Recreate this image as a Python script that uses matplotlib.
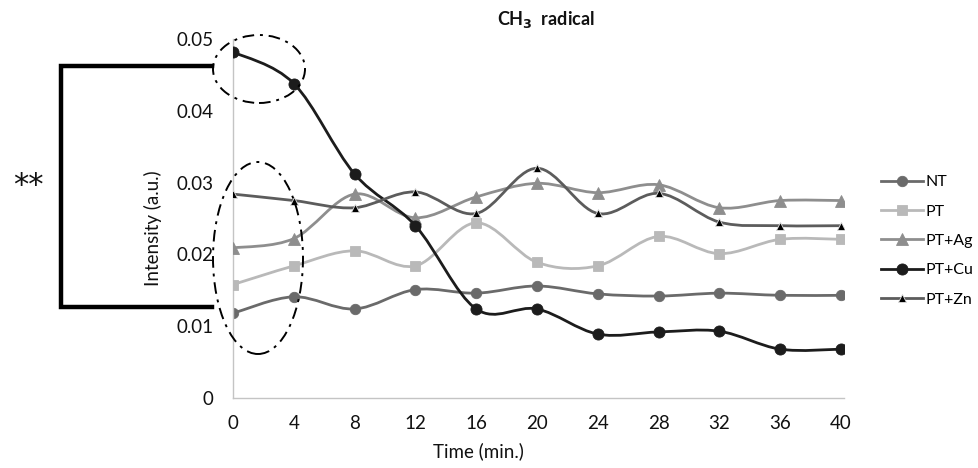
import numpy as np
import matplotlib
matplotlib.use("Agg")
import matplotlib.pyplot as plt
from matplotlib.path import Path
from matplotlib.patches import PathPatch, Ellipse
from matplotlib.lines import Line2D

plt.rcParams['font.family'] = ['Lato', 'DejaVu Sans']

time = [0, 4, 8, 12, 16, 20, 24, 28, 32, 36, 40]
nt = [0.0118, 0.0141, 0.0124, 0.0151, 0.0146, 0.0156, 0.0145, 0.0142, 0.0146, 0.0143, 0.0143]
pt = [0.0158, 0.0184, 0.0205, 0.0184, 0.0244, 0.0189, 0.0184, 0.0225, 0.0201, 0.0221, 0.0221]
pt_ag = [0.0209, 0.0222, 0.0284, 0.0251, 0.0280, 0.0299, 0.0286, 0.0297, 0.0265, 0.0275, 0.0275]
pt_cu = [0.0482, 0.0438, 0.0312, 0.0240, 0.0124, 0.0124, 0.0089, 0.0092, 0.0093, 0.0068, 0.0068]
pt_zn = [0.0284, 0.0275, 0.0265, 0.0287, 0.0257, 0.0320, 0.0257, 0.0285, 0.0245, 0.0240, 0.0240]
labels = ["NT", "PT", "PT+Ag", "PT+Cu", "PT+Zn"]
yticks = [0, 0.01, 0.02, 0.03, 0.04, 0.05]
xticks = time

series = [nt, pt, pt_ag, pt_cu, pt_zn]
styles = [
    dict(color="#6a6a6a", marker="o", ms=7.5, mfc="#6a6a6a", mec="#6a6a6a"),
    dict(color="#b9b9b9", marker="s", ms=7.5, mfc="#b9b9b9", mec="#b9b9b9"),
    dict(color="#8e8e8e", marker="^", ms=8.5, mfc="#8e8e8e", mec="#8e8e8e"),
    dict(color="#1c1c1c", marker="o", ms=8, mfc="#1c1c1c", mec="#1c1c1c"),
    dict(color="#5c5c5c", marker="^", ms=5.5, mfc="#000000", mec="#e0e0e0"),
]

W, H = 979, 468
fig = plt.figure(figsize=(W / 100, H / 100), dpi=100)
ax = fig.add_axes([233 / W, 1 - 398 / H, (844 - 233) / W, (398 - 39) / H])
ax.set_xlim(0, 40.2)
ax.set_ylim(0, 0.05)


def smooth_path(x, y):
    P = np.column_stack([x, y]).astype(float)
    n = len(P)
    verts = [P[0]]
    codes = [Path.MOVETO]
    for i in range(n - 1):
        p0 = P[i - 1] if i > 0 else P[i]
        p1 = P[i]
        p2 = P[i + 1]
        p3 = P[i + 2] if i + 2 < n else P[i + 1]
        c1 = p1 + (p2 - p0) / 6.0
        c2 = p2 - (p3 - p1) / 6.0
        verts += [c1, c2, p2]
        codes += [Path.CURVE4] * 3
    return Path(verts, codes)


handles = []
for k, (vals, st) in enumerate(zip(series, styles)):
    patch = PathPatch(smooth_path(time, vals), facecolor="none", edgecolor=st["color"],
                      lw=2.0, zorder=2 + k, capstyle="round", joinstyle="round")
    ax.add_patch(patch)
    ax.plot(time, vals, linestyle="none", marker=st["marker"], ms=st["ms"],
            mfc=st["mfc"], mec=st["mec"], mew=0.6, zorder=2.5 + k)
    handles.append(Line2D([0], [0], color=st["color"], lw=2.0, marker=st["marker"],
                          ms=st["ms"], mfc=st["mfc"], mec=st["mec"], mew=0.6))

for s in ["top", "right"]:
    ax.spines[s].set_visible(False)
for s in ["left", "bottom"]:
    ax.spines[s].set_color("#c4c4c4")
    ax.spines[s].set_linewidth(1.0)
ax.set_xticks(xticks)
ax.set_xticklabels([str(t) for t in xticks])
ax.set_yticks(yticks)
ax.set_yticklabels(["0", "0.01", "0.02", "0.03", "0.04", "0.05"])
ax.tick_params(axis="both", length=0, labelsize=13.5, colors="#111111")
ax.tick_params(axis="x", pad=12)
ax.tick_params(axis="y", pad=14)

fig.text(478 / W, 1 - 451 / H, "Time (min.)", ha="center", va="center", fontsize=13.5, color="#111111")
fig.text(153 / W, 1 - 228 / H, "Intensity (a.u.)", ha="center", va="center", rotation=90,
         fontsize=13.5, color="#111111")
fig.text(546 / W, 1 - 19 / H, r"CH$_{\mathbf{3}}$  radical", ha="center", va="center",
         fontsize=13, fontweight="bold", color="#111111")

leg = fig.legend(handles, labels, loc="upper left", bbox_to_anchor=(881 / W, 1 - 175 / H),
                 frameon=False, fontsize=11.5, handlelength=2.6, labelspacing=0.95,
                 handletextpad=0.2, borderpad=0, borderaxespad=0)

# significance bracket
fig.add_artist(Line2D([212 / W, 61 / W, 61 / W, 212 / W],
                      [1 - 66 / H, 1 - 66 / H, 1 - 307 / H, 1 - 307 / H],
                      color="black", lw=3.2, solid_joinstyle="miter", transform=fig.transFigure))
fig.text(28 / W, 1 - 186 / H, "**", ha="center", va="center", fontsize=22, color="#111111",
         family="DejaVu Sans")

# dash-dot ellipses (figure pixel coordinates)
for cx, cy, ew, eh in [(259, 69, 92, 68), (258, 258, 90, 192)]:
    e = Ellipse((cx / W, 1 - cy / H), ew / W, eh / H, transform=fig.transFigure,
                fill=False, edgecolor="black", lw=1.4, linestyle=(0, (6, 3, 1.5, 3)))
    fig.add_artist(e)

fig.savefig("out.png", dpi=100)
